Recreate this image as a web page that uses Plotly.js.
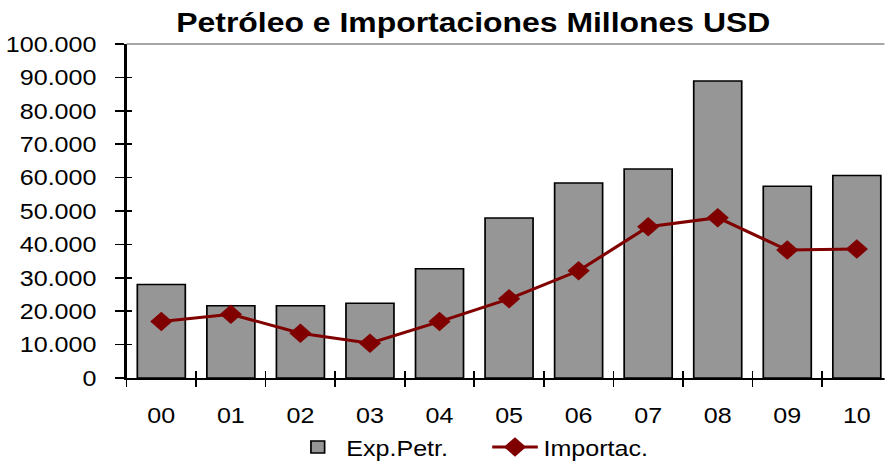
<!DOCTYPE html>
<html><head><meta charset="utf-8">
<script src="https://cdn.plot.ly/plotly-3.0.1.min.js"></script>
<style>html,body{margin:0;padding:0;overflow:hidden;background:#fff;width:885px;height:461px}
#chart{transform:scaleX(1.14);transform-origin:0 0}</style>
</head><body>
<div id="chart" style="width:776px;height:461px"></div>
<script>
const years = ["00","01","02","03","04","05","06","07","08","09","10"];
const expPetr = [28000, 21600, 21600, 22400, 32700, 47900, 58400, 62600, 88900, 57400, 60600];
const importac = [16900, 19100, 13400, 10400, 16900, 23700, 32100, 45300, 48000, 38300, 38600];
const yTicks = [0,10000,20000,30000,40000,50000,60000,70000,80000,90000,100000];

const FONT = "Liberation Sans, Arial, sans-serif";
const data = [
  {type:"bar", name:"Exp.Petr.", x:years, y:expPetr,
   marker:{color:"#969696", line:{color:"#000", width:1.5}}, xaxis:"x", yaxis:"y"},
  {type:"scatter", mode:"lines+markers", name:"Importac.", x:years, y:importac,
   line:{color:"#800000", width:3}, marker:{symbol:"diamond", size:15, color:"#800000"},
   xaxis:"x2", yaxis:"y2"}
];
const xr = [-0.5, 10.4], yr = [0, 100000];
const layout = {
  width:776, height:461,
  margin:{l:111, r:0, t:44, b:83},
  paper_bgcolor:"#fff", plot_bgcolor:"#fff",
  separators:",.",
  font:{family:FONT, size:22, color:"#000"},
  title:{text:"<b>Petróleo e Importaciones Millones USD</b>", font:{family:FONT, size:28, color:"#000"},
         x:0.535, xanchor:"center", xref:"container", y:0.952, yanchor:"middle", yref:"container"},
  bargap:0.31,
  showlegend:true,
  legend:{orientation:"h", x:0.327, xanchor:"left", xref:"container", y:0.03, yanchor:"middle", yref:"container",
          font:{family:FONT, size:22}, traceorder:"normal", itemwidth:40, entrywidth:118},
  xaxis:{type:"category", range:xr, showgrid:false, zeroline:false, showline:true, linecolor:"#000", linewidth:2,
         ticks:"outside", ticklen:7, tickwidth:1.5, tickcolor:"#000", tickson:"boundaries",
         tickfont:{family:FONT, size:22}, ticklabelstandoff:17, fixedrange:true},
  xaxis2:{type:"category", overlaying:"x", side:"bottom", range:xr, showgrid:false, zeroline:false, showline:false,
          ticks:"inside", ticklen:7, tickwidth:1.5, tickcolor:"#000", tickson:"boundaries", showticklabels:false},
  yaxis:{range:yr, tickvals:yTicks, tickformat:",d", showgrid:false, zeroline:false, showline:true, linecolor:"#000", linewidth:2,
         ticks:"outside", ticklen:8, tickwidth:1.5, tickcolor:"#000", tickfont:{family:FONT, size:22}, ticklabelstandoff:12},
  yaxis2:{range:yr, tickvals:yTicks, overlaying:"y", side:"left", showgrid:false, zeroline:false, showline:false,
          ticks:"inside", ticklen:5, tickwidth:1.5, tickcolor:"#000", showticklabels:false},
  shapes:[{type:"line", xref:"paper", yref:"paper", x0:0, x1:1, y0:1, y1:1, line:{color:"#888", width:1.5}}]
};
Plotly.newPlot("chart", data, layout, {displayModeBar:false, staticPlot:true});
</script>
</body></html>
